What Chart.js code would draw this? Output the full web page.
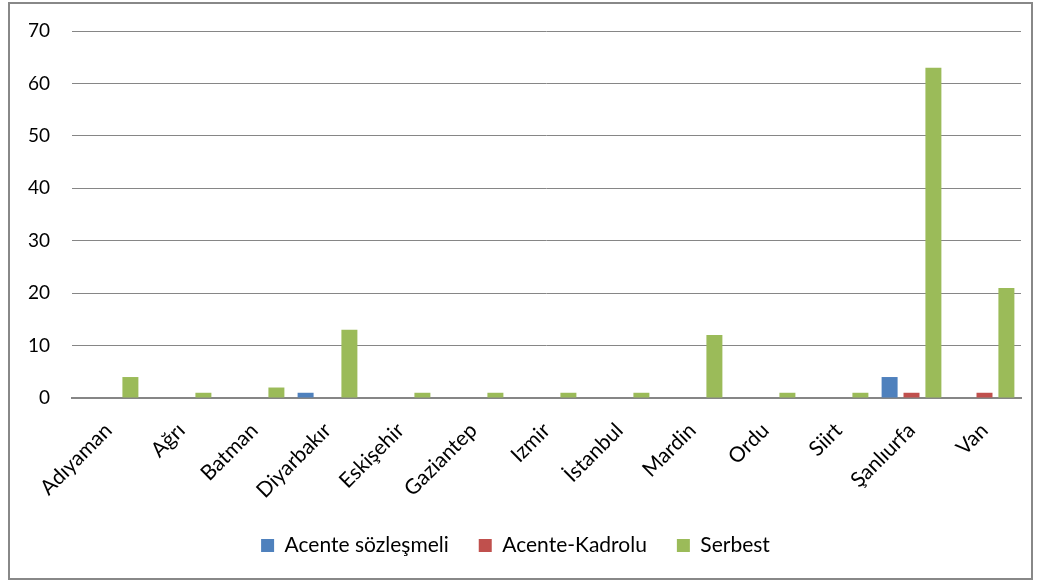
<!DOCTYPE html>
<html>
<head>
<meta charset="utf-8">
<script src="https://cdn.jsdelivr.net/npm/chart.js@4"></script>
<style>
    body { margin: 0; background: #fff; }
    #wrap {
        position: absolute;
        left: 8px; top: 2px;
        width: 1021px; height: 574px;
        border: 2px solid #888;
        background: #fff;
    }
</style>
</head>
<body>
<div id="wrap"><canvas id="chart" width="1021" height="574"></canvas></div>
<script>
// ===== Data =====
const categories = ['Adıyaman', 'Ağrı', 'Batman', 'Diyarbakır', 'Eskişehir', 'Gaziantep', 'Izmir', 'İstanbul', 'Mardin', 'Ordu', 'Siirt', 'Şanlıurfa', 'Van'];
const acenteSozlesmeli = [0, 0, 0, 1, 0, 0, 0, 0, 0, 0, 0, 4, 0];
const acenteKadrolu = [0, 0, 0, 0, 0, 0, 0, 0, 0, 0, 0, 1, 1];
const serbest = [4, 1, 2, 13, 1, 1, 1, 1, 12, 1, 1, 63, 21];
const yTicks = [0, 10, 20, 30, 40, 50, 60, 70];

const seriesNames = ['Acente sözleşmeli', 'Acente-Kadrolu', 'Serbest'];
const seriesColors = ['#4F81BD', '#C0504D', '#9BBB59'];

// ===== Chart =====
const ctx = document.getElementById('chart');
new Chart(ctx, {
    type: 'bar',
    data: {
        labels: categories,
        datasets: [acenteSozlesmeli, acenteKadrolu, serbest].map((values, i) => ({
            label: seriesNames[i],
            data: values,
            backgroundColor: seriesColors[i],
            borderWidth: 0,
            categoryPercentage: 0.9,
            barPercentage: 0.73
        }))
    },
    options: {
        responsive: false,
        animation: false,
        layout: { padding: { top: 27, right: 10, bottom: 12, left: 0 } },
        plugins: {
            tooltip: { enabled: false },
            legend: {
                position: 'bottom',
                labels: {
                    boxWidth: 13,
                    boxHeight: 13,
                    padding: 30,
                    color: '#000',
                    font: { family: 'Lato', size: 21 }
                }
            }
        },
        scales: {
            x: {
                grid: { display: false, drawTicks: false },
                border: { color: '#868686', width: 2 },
                ticks: {
                    minRotation: 45,
                    maxRotation: 45,
                    padding: 20,
                    color: '#000',
                    font: { family: 'Lato', size: 21 }
                },
                afterFit: scale => { scale.height = 107; }
            },
            y: {
                min: 0,
                max: 70,
                afterBuildTicks: scale => { scale.ticks = yTicks.map(v => ({ value: v })); },
                // transparent ticks keep the label gap without pushing the plot top down
                grid: { color: '#868686', lineWidth: 1, drawTicks: true, tickLength: 20, tickColor: 'transparent' },
                border: { display: false },
                ticks: {
                    padding: 2,
                    color: '#000',
                    font: { family: 'Lato', size: 19 }
                },
                afterFit: scale => { scale.width = 62; }
            }
        }
    }
});
</script>
</body>
</html>
